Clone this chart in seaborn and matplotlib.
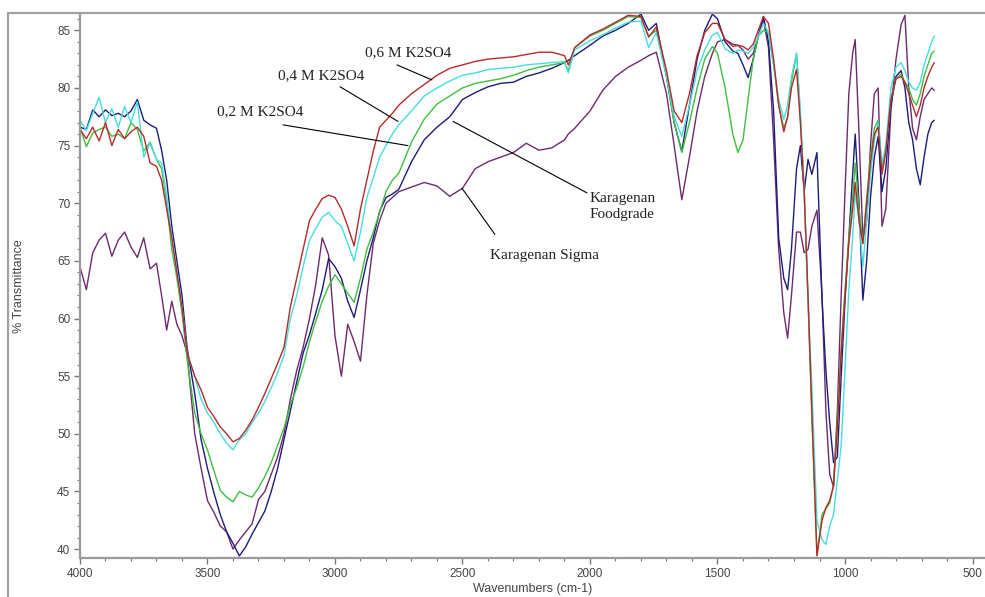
import pandas as pd
import seaborn as sns
import matplotlib.pyplot as plt
from matplotlib.lines import Line2D
from matplotlib.ticker import MultipleLocator

# -----------------------------------------------------------------------------
# Data
# -----------------------------------------------------------------------------
WAVENUMBER = [
    4000, 3975, 3950, 3925, 3900, 3875, 3850, 3825, 3800, 3775, 3750, 3725, 3700,
    3680, 3660, 3640, 3620, 3600, 3580,
    3550, 3525, 3500, 3475, 3450, 3425, 3400, 3375, 3350, 3325, 3300, 3275, 3250,
    3225, 3200, 3175, 3150, 3125, 3100, 3075, 3050, 3025, 3000,
    2975, 2950, 2925, 2900, 2875, 2850, 2825, 2800, 2775, 2750,
    2700, 2650, 2600, 2550, 2500, 2450, 2400, 2350, 2300, 2250, 2200, 2150, 2100,
    2085, 2060, 2000, 1950, 1900, 1850, 1800, 1770, 1740,
    1700, 1670, 1640, 1610, 1580, 1550, 1520, 1500, 1470, 1440, 1420, 1400, 1380,
    1360, 1340, 1320, 1300,
    1280, 1260, 1240, 1225, 1210, 1190, 1175, 1160, 1145, 1130, 1110, 1090, 1075,
    1060, 1045, 1030, 1015, 1000, 985, 970, 960, 945, 930, 915, 900, 885, 870,
    855, 840, 820, 800, 780, 765, 750, 735, 720, 705, 690, 675, 660, 650,
]

T_06M = [
    76.4, 75.6, 76.6, 75.4, 77.0, 75.0, 76.4, 75.6, 76.2, 76.6, 75.8, 73.5, 73.2,
    72.0, 69.5, 67.0, 64.0, 61.0, 57.0,
    55.0, 53.8, 52.3, 51.5, 50.6, 50.0, 49.3, 49.6, 50.3, 51.2, 52.3, 53.5, 54.8,
    56.1, 57.5, 61.0, 63.5, 66.0, 68.5, 69.5, 70.4, 70.7, 70.5,
    69.5, 68.0, 66.3, 69.5, 72.0, 74.5, 76.6, 77.2, 77.8, 78.5,
    79.5, 80.3, 81.1, 81.7, 82.0, 82.3, 82.5, 82.6, 82.7, 82.9, 83.1, 83.1, 82.8,
    82.0, 83.5, 84.6, 85.1, 85.7, 86.3, 86.2, 84.4, 85.3,
    81.5, 78.0, 77.0, 79.5, 82.8, 84.8, 85.6, 85.6, 84.2, 83.6, 83.7, 83.6, 83.3,
    83.8, 85.0, 86.2, 85.6,
    82.5, 78.5, 76.2, 77.5, 80.0, 81.6, 77.0, 71.0, 62.0, 52.0, 39.4, 42.5, 43.6,
    44.2, 45.5, 50.5, 57.0, 62.0, 66.5, 69.5, 71.8, 68.5, 66.5, 70.0, 73.5, 76.0, 76.6,
    72.5, 74.5, 79.0, 80.8, 81.0, 80.5, 79.5, 78.5, 77.5, 78.5, 80.0, 81.0, 81.8, 82.2,
]

T_04M = [
    77.2, 76.3, 77.8, 79.2, 77.0, 78.2, 76.6, 78.4, 77.0, 78.8, 74.0, 75.2, 73.8,
    73.5, 70.6, 67.0, 64.0, 61.0, 57.0,
    55.0, 53.0, 51.8, 51.0, 50.0, 49.2, 48.6, 49.5, 50.0, 51.0, 51.8, 52.8, 54.0,
    55.3, 56.8, 60.0, 62.0, 64.5, 66.8, 67.8, 68.8, 69.2, 68.5,
    68.0, 66.5, 65.0, 67.5, 70.5, 72.2, 74.0, 75.0, 76.0, 76.8,
    78.0, 79.3, 80.0, 80.6, 81.1, 81.3, 81.6, 81.7, 81.8, 82.0, 82.1, 82.2, 82.3,
    81.3, 83.3, 84.1, 84.6, 85.2, 85.7, 85.8, 83.5, 84.8,
    81.0, 77.5, 75.8, 78.5, 81.5, 83.3, 84.6, 84.8, 83.4, 83.0, 83.3, 83.2, 83.0,
    83.5, 84.5, 85.6, 84.8,
    82.0, 79.0, 77.3, 78.5, 81.0, 83.0, 78.0, 71.0, 61.5, 54.0, 42.5, 40.8, 40.4,
    42.0, 43.0, 46.0, 49.0, 55.5, 62.5, 67.0, 71.0, 68.5, 64.5, 68.5, 72.5, 75.5, 77.0,
    73.5, 75.0, 80.0, 81.8, 82.2, 81.5, 80.5, 80.0, 79.8, 80.5, 82.0, 83.0, 84.0, 84.5,
]

T_02M = [
    76.6, 74.9, 76.1, 76.4, 76.6, 75.8, 76.0, 75.6, 77.0, 76.4, 74.5, 75.3, 73.8,
    73.0, 70.0, 66.0, 63.5, 60.5, 56.5,
    51.8, 50.0, 48.6, 46.8, 45.1, 44.5, 44.1, 45.0, 44.7, 44.5, 45.3, 46.3, 47.5,
    49.0, 50.5, 52.5, 54.0, 55.8, 58.0, 59.8, 61.5, 62.8, 63.8,
    63.0, 62.2, 61.4, 63.5, 66.0, 67.5, 69.2, 71.0, 72.0, 72.6,
    75.3, 77.3, 78.6, 79.3, 80.0, 80.4, 80.6, 80.8, 81.1, 81.5, 81.8, 82.0, 82.2,
    81.5, 83.5, 84.5, 85.0, 85.6, 86.2, 86.1, 84.5, 85.0,
    81.0, 77.0, 74.4, 77.0, 80.0, 82.5, 83.6, 83.0, 80.0, 76.0, 74.4, 75.5, 79.0,
    82.5, 84.5, 85.0, 84.8,
    82.0, 78.5, 76.5, 77.5, 80.5, 83.0, 77.5, 71.0, 61.5, 51.5, 39.5, 43.0, 43.5,
    44.0, 45.5, 51.0, 57.5, 62.5, 67.0, 70.5, 73.5, 69.5, 66.5, 70.5, 74.0, 76.5, 77.2,
    73.0, 74.5, 79.0, 80.8, 81.2, 80.5, 80.0, 79.0, 78.5, 79.5, 81.0, 82.0, 83.0, 83.2,
]

T_FOODGRADE = [
    76.6, 76.4, 78.1, 77.5, 78.1, 77.6, 77.8, 77.5, 78.0, 79.0, 77.2, 76.8, 76.5,
    74.6, 72.0, 68.0, 65.0, 62.0, 57.5,
    53.5, 49.5, 47.0, 44.9, 43.0, 41.5, 40.5, 39.4, 40.2, 41.3, 42.3, 43.3, 45.0,
    47.0, 49.5, 52.0, 54.5, 57.0, 58.6, 60.5, 62.5, 65.2, 64.5,
    63.5, 61.5, 60.1, 62.5, 65.0, 67.0, 69.3, 70.5, 70.8, 71.2,
    73.6, 75.5, 76.6, 77.5, 79.0, 79.6, 80.1, 80.4, 80.5, 81.0, 81.3, 81.7, 82.2,
    82.4, 82.8, 83.7, 84.5, 85.0, 85.6, 86.4, 85.0, 85.6,
    81.0, 77.0, 74.5, 78.5, 82.5, 85.0, 86.4, 86.0, 84.0, 83.2, 83.0, 82.0, 80.9,
    82.5, 84.5, 86.2, 84.0,
    78.0, 67.0, 63.5, 62.5, 66.0, 73.0, 75.0, 71.0, 73.8, 72.5, 74.4, 61.6, 55.5,
    51.0, 47.5, 48.0, 55.0, 61.5, 67.0, 72.5, 76.0, 70.0, 61.6, 65.0, 70.5, 74.0, 75.8,
    71.0, 73.0, 78.5, 81.0, 81.5, 80.0, 77.0, 75.5, 73.0, 71.6, 74.0, 76.0, 77.0, 77.2,
]

T_SIGMA = [
    64.5, 62.5, 65.7, 66.8, 67.4, 65.4, 66.8, 67.5, 66.2, 65.3, 67.0, 64.3, 64.8,
    62.0, 59.0, 61.5, 59.5, 58.5, 57.0,
    50.0, 47.0, 44.2, 43.2, 42.0, 41.5, 40.0, 40.8, 41.5, 42.2, 44.3, 45.0, 46.5,
    48.0, 50.0, 53.0, 55.5, 57.5, 60.0, 63.0, 67.0, 65.5, 58.5,
    55.0, 59.5, 58.0, 56.3, 62.0, 66.5, 68.5, 70.0, 70.5, 71.0,
    71.4, 71.8, 71.5, 70.6, 71.3, 73.0, 73.6, 74.0, 74.4, 75.2, 74.6, 74.8, 75.5,
    76.0, 76.5, 78.0, 79.8, 81.0, 81.8, 82.4, 82.8, 83.1,
    79.5, 75.0, 70.3, 74.0, 78.0, 81.0, 83.0, 84.0, 84.2, 83.8, 83.7, 83.3, 82.5,
    83.0, 84.5, 85.9, 83.5,
    75.5, 66.0, 60.5, 58.3, 62.0, 67.5, 67.5, 65.7, 66.0, 68.0, 69.4, 62.0, 52.0,
    46.5, 45.4, 52.0, 62.0, 71.0, 79.5, 83.0, 84.2, 76.0, 67.0, 68.5, 75.0, 79.5, 80.0,
    68.0, 69.5, 78.0, 82.5, 85.5, 86.3, 80.0, 76.5, 75.5, 77.5, 79.0, 79.5, 80.0, 79.8,
]

SAMPLES = ["Karagenan Sigma", "Karagenan Foodgrade", "0,2 M K2SO4", "0,4 M K2SO4", "0,6 M K2SO4"]
SPECTRA = [T_SIGMA, T_FOODGRADE, T_02M, T_04M, T_06M]
COLORS = ["#6e2a6e", "#1c1c7a", "#3fbf3f", "#45dede", "#b82a2a"]

# label text, text anchor (wavenumber, %T), leader start, leader end
LABELS = [
    ("0,6 M K2SO4", (2882, 83.1), (2757, 82.0), (2620, 80.7)),
    ("0,4 M K2SO4", (3224, 81.1), (2980, 80.1), (2753, 77.1)),
    ("0,2 M K2SO4", (3463, 77.9), (3204, 76.8), (2714, 75.0)),
    ("Karagenan\nFoodgrade", (2000, 69.7), (2537, 77.1), (2012, 70.9)),
    ("Karagenan Sigma", (2392, 65.5), (2502, 71.3), (2373, 67.3)),
]


def main():
    frames = []
    for name, values in zip(SAMPLES, SPECTRA):
        frames.append(pd.DataFrame({"wavenumber": WAVENUMBER,
                                    "transmittance": values,
                                    "sample": name}))
    df = pd.concat(frames, ignore_index=True)

    sns.set_style("white")
    plt.rcParams["font.family"] = ["Liberation Sans", "DejaVu Sans"]

    fig = plt.figure(figsize=(9.85, 5.97), dpi=100)
    ax = fig.add_axes([0.0812, 0.0648, 0.9188, 0.9134])

    sns.lineplot(data=df, x="wavenumber", y="transmittance", hue="sample",
                 hue_order=SAMPLES, palette=COLORS, linewidth=1.0,
                 estimator=None, legend=False, ax=ax)

    ax.set_xlim(4000, 451)
    ax.set_ylim(39.2, 86.5)
    ax.xaxis.set_major_locator(MultipleLocator(500))
    ax.xaxis.set_minor_locator(MultipleLocator(100))
    ax.yaxis.set_major_locator(MultipleLocator(5))
    ax.yaxis.set_minor_locator(MultipleLocator(1))

    grey = "#9a9a9a"
    for side in ["top", "right"]:
        ax.spines[side].set_visible(False)
    for side in ["left", "bottom"]:
        ax.spines[side].set_color(grey)
        ax.spines[side].set_linewidth(1.6)
    ax.tick_params(which="major", direction="out", length=4, width=1,
                   color="#777777", labelsize=8.5, labelcolor="#444444", pad=3)
    ax.tick_params(which="minor", direction="out", length=2, width=0.8,
                   color="#777777")
    ax.tick_params(axis="x", which="both", bottom=True)
    ax.tick_params(axis="y", which="both", left=True)

    ax.set_xlabel("Wavenumbers (cm-1)", fontsize=9, color="#444444", labelpad=2)
    ax.set_ylabel("% Transmittance", fontsize=9, color="#444444", labelpad=23)

    # labels with leader lines
    for text, pos, start, end in LABELS:
        ax.plot([start[0], end[0]], [start[1], end[1]], color="black", lw=0.8)
        ax.text(pos[0], pos[1], text, ha="left", va="center", fontsize=11,
                family=["Liberation Serif", "DejaVu Serif"], color="#222222",
                linespacing=1.25)

    # outer plot frame
    fig.add_artist(Line2D([8 / 985, 1.0], [1 - 13 / 597, 1 - 13 / 597],
                          transform=fig.transFigure, color="#a0a0a0", lw=1.6))
    fig.add_artist(Line2D([8 / 985, 8 / 985], [0.0, 1 - 13 / 597],
                          transform=fig.transFigure, color="#a0a0a0", lw=1.6))

    fig.savefig("out.png", dpi=100)


if __name__ == "__main__":
    main()
